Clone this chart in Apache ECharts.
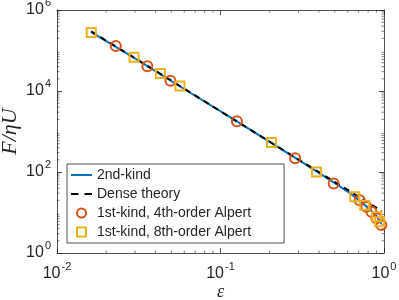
<!DOCTYPE html>
<html>
<head>
<meta charset="utf-8">
<script src="https://cdn.jsdelivr.net/npm/echarts@6/dist/echarts.min.js"></script>
<style>html,body{margin:0;padding:0;background:#fff}#c{width:399px;height:300px}</style>
</head>
<body>
<div id="c"></div>
<script>
// ---- data ----
var eps2ndKind = [0.0162, 0.03, 0.06, 0.126, 0.3, 0.5, 0.62, 0.7, 0.8, 0.9, 0.965];
var F2ndKind   = [2.85e5, 6.4e4, 1.12e4, 1.78e3, 200, 53, 30, 20.5, 13, 8.2, 5.2];

var epsDense = [0.0162, 0.04, 0.1, 0.3, 0.6, 0.8, 0.97];
var FDense   = [2.95e5, 3.16e4, 3.16e3, 203, 36, 17.5, 10.8];

var epsAlpert4 = [0.0229, 0.0357, 0.0494, 0.126, 0.286, 0.492, 0.71, 0.78, 0.837, 0.898, 0.964];
var FAlpert4   = [1.3e5, 4.1e4, 1.8e4, 1.78e3, 219, 52, 20.2, 13.8, 10.4, 7.2, 4.9];

var epsAlpert8 = [0.0162, 0.0296, 0.0429, 0.0565, 0.205, 0.386, 0.662, 0.762, 0.902, 0.941];
var FAlpert8   = [2.8e5, 6.8e4, 2.7e4, 1.32e4, 533, 100, 24.4, 15.2, 7.8, 5.9];

var seriesNames = ['2nd-kind', 'Dense theory', '1st-kind, 4th-order Alpert', '1st-kind, 8th-order Alpert'];
var xTickLabels = ['10^-2', '10^-1', '10^0'];
var yTickLabels = ['10^0', '10^2', '10^4', '10^6'];
var xMinorTicks = [0.02,0.03,0.04,0.05,0.06,0.07,0.08,0.09,0.2,0.3,0.4,0.5,0.6,0.7,0.8,0.9];
var yMinorTicks = [2,3,4,5,6,7,8,9,20,30,40,50,60,70,80,90,200,300,400,500,600,700,800,900,
  2000,3000,4000,5000,6000,7000,8000,9000,2e4,3e4,4e4,5e4,6e4,7e4,8e4,9e4,
  2e5,3e5,4e5,5e5,6e5,7e5,8e5,9e5];

function zip(a, b) { return a.map(function (v, i) { return [v, b[i]]; }); }

var AX = '#262626';
var XMIN = 0.01, XMAX = 1, YMIN = 1, YMAX = 1e6;

function powLabel(v) {
  var e = Math.round(Math.log10(v));
  return '{b|10}{e|' + e + '}';
}
var richLab = {
  b: { fontSize: 16, color: AX, fontFamily: 'Liberation Sans' },
  e: { fontSize: 11, color: AX, fontFamily: 'Liberation Sans', padding: [0, 0, 15, 1] }
};

function minorRenderX(params, api) {
  var v = api.value(0);
  var pb = api.coord([v, YMIN]);
  var pt = api.coord([v, YMAX]);
  var st = { stroke: AX, lineWidth: 0.6 };
  return { type: 'group', children: [
    { type: 'line', shape: { x1: pb[0], y1: pb[1], x2: pb[0], y2: pb[1] - 2.5 }, style: st },
    { type: 'line', shape: { x1: pt[0], y1: pt[1], x2: pt[0], y2: pt[1] + 2.5 }, style: st }
  ]};
}
function minorRenderY(params, api) {
  var v = api.value(1);
  var pl = api.coord([XMIN, v]);
  var pr = api.coord([XMAX, v]);
  var st = { stroke: AX, lineWidth: 0.6 };
  return { type: 'group', children: [
    { type: 'line', shape: { x1: pl[0], y1: pl[1], x2: pl[0] + 2.5, y2: pl[1] }, style: st },
    { type: 'line', shape: { x1: pr[0], y1: pr[1], x2: pr[0] - 2.5, y2: pr[1] }, style: st }
  ]};
}

var chart = echarts.init(document.getElementById('c'), null, { renderer: 'canvas' });
var axisCommon = {
  type: 'log', logBase: 10,
  axisLine: { show: true, lineStyle: { color: AX, width: 0.8 } },
  axisTick: { show: true, inside: true, length: 5, lineStyle: { color: AX, width: 0.8 } },
  splitLine: { show: false }, minorTick: { show: false }
};
var squareIcon = 'path://M0,0L10,0L10,10L0,10Z';
chart.setOption({
  animation: false,
  backgroundColor: '#fff',
  grid: { left: 57, right: 15, top: 10, bottom: 47, containLabel: false, outerBoundsMode: 'none' },
  xAxis: [
    Object.assign({}, axisCommon, {
      min: XMIN, max: XMAX, position: 'bottom',
      name: 'ε', nameLocation: 'middle', nameGap: 30, nameMoveOverlap: false,
      nameTextStyle: { fontSize: 18, fontStyle: 'italic', fontFamily: 'Liberation Serif', color: AX },
      axisLabel: { margin: 8, formatter: powLabel, rich: richLab }
    }),
    Object.assign({}, axisCommon, {
      min: XMIN, max: XMAX, position: 'top', axisLabel: { show: false }
    })
  ],
  yAxis: [
    Object.assign({}, axisCommon, {
      min: YMIN, max: YMAX, interval: 2, position: 'left',
      name: 'F/ηU', nameLocation: 'middle', nameGap: 36, nameMoveOverlap: false,
      nameTextStyle: { fontSize: 22, fontStyle: 'italic', fontFamily: 'Liberation Serif', color: AX },
      axisLabel: { margin: 6, formatter: powLabel, rich: richLab }
    }),
    Object.assign({}, axisCommon, {
      min: YMIN, max: YMAX, interval: 2, position: 'right', axisLabel: { show: false }
    })
  ],
  legend: {
    data: [
      { name: seriesNames[0], itemStyle: { opacity: 0 } },
      { name: seriesNames[1], itemStyle: { opacity: 0 }, lineStyle: { type: [7.5, 6] } },
      { name: seriesNames[2], icon: 'circle' },
      { name: seriesNames[3], icon: squareIcon }
    ],
    orient: 'vertical', left: 67, top: 164,
    backgroundColor: '#fff', borderColor: AX, borderWidth: 0.8, borderRadius: 0,
    padding: [4, 33, 4, 3],
    itemWidth: 21, itemHeight: 9, itemGap: 5, symbolKeepAspect: true,
    textStyle: { fontSize: 14, lineHeight: 14, color: AX, fontFamily: 'Liberation Sans' }
  },
  series: [
    { name: seriesNames[0], type: 'line', data: zip(eps2ndKind, F2ndKind),
      symbol: 'none', showSymbol: false, z: 2,
      lineStyle: { color: '#0072BD', width: 2 }, itemStyle: { color: '#0072BD' } },
    { name: seriesNames[1], type: 'line', data: zip(epsDense, FDense),
      symbol: 'none', showSymbol: false, z: 3,
      lineStyle: { color: '#000', width: 2, type: [6, 5] }, itemStyle: { color: '#000' } },
    { name: seriesNames[2], type: 'scatter', data: zip(epsAlpert4, FAlpert4),
      symbol: 'circle', symbolSize: 10, z: 4,
      itemStyle: { color: 'rgba(255,255,255,0)', borderColor: '#D95319', borderWidth: 2, opacity: 1 } },
    { name: seriesNames[3], type: 'scatter', data: zip(epsAlpert8, FAlpert8),
      symbol: 'rect', symbolSize: 9, z: 5,
      itemStyle: { color: 'rgba(255,255,255,0)', borderColor: '#EDB120', borderWidth: 2, opacity: 1 } },
    { type: 'custom', silent: true, z: 1, renderItem: minorRenderX,
      data: xMinorTicks.map(function (v) { return [v, YMIN]; }) },
    { type: 'custom', silent: true, z: 1, renderItem: minorRenderY,
      data: yMinorTicks.map(function (v) { return [XMIN, v]; }) }
  ]
});
</script>
</body>
</html>
